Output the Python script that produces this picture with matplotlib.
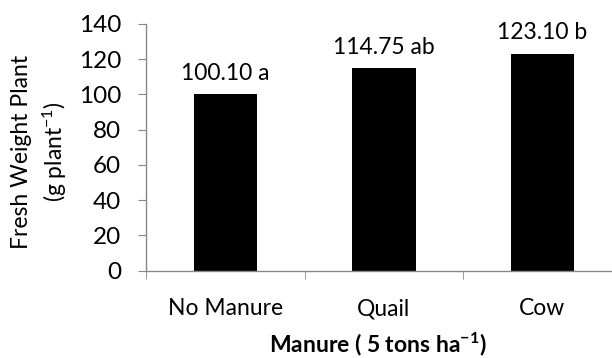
import matplotlib
matplotlib.use("Agg")
import matplotlib.pyplot as plt

# data
categories = ["No Manure", "Quail", "Cow"]
values = [100.10, 114.75, 123.10]
letters = ["a", "ab", "b"]

plt.rcParams['font.family'] = ['Lato', 'DejaVu Sans']
plt.rcParams['mathtext.fontset'] = 'custom'
plt.rcParams['mathtext.rm'] = 'Lato'
plt.rcParams['mathtext.bf'] = 'Lato:bold'

fig = plt.figure(figsize=(6.12, 3.58), dpi=100)
ax = fig.add_axes([146 / 612, 1 - 270.7 / 358, (621.75 - 146) / 612, (270.7 - 24) / 358])

x = range(len(categories))
bars = ax.bar(x, values, width=0.4, color="black")

for b, v, l in zip(bars, values, letters):
    ax.text(b.get_x() + b.get_width() / 2, v + 6, f"{v:.2f} {l}",
            ha="center", va="bottom", fontsize=16.5)

ax.set_xlim(-0.5, 2.5)
ax.set_ylim(0, 140)
ax.set_yticks(range(0, 141, 20))
ax.set_xticks(list(x))
ax.set_xticklabels(categories)
ax.set_xticks([-0.5, 0.5, 1.5, 2.5], minor=True)
ax.tick_params(axis="x", which="major", length=0, pad=20, labelsize=16.5)
ax.tick_params(axis="x", which="minor", length=6, color="#888888", direction="out")
ax.tick_params(axis="y", length=6, color="#888888", labelsize=17.5, pad=12)

for s in ["top", "right"]:
    ax.spines[s].set_visible(False)
for s in ["left", "bottom"]:
    ax.spines[s].set_color("#888888")
    ax.spines[s].set_linewidth(1)

ax.set_ylabel("Fresh Weight Plant\n(g plant$\\mathregular{^{-1}}$)", fontsize=16.5,
              ha="center", va="center", linespacing=1.4)
ax.yaxis.set_label_coords((40 - 146) / (621.75 - 146), (270.7 - 152) / 246.7)
ax.set_xlabel("Manure ( 5 tons ha$\\mathbf{^{-1}}$)", fontsize=16.5, fontweight="bold")
ax.xaxis.label.set_va("center")
ax.xaxis.set_label_coords((378 - 146) / (621.75 - 146), (270.7 - 344) / 246.7)

fig.savefig("out.png", dpi=100)
